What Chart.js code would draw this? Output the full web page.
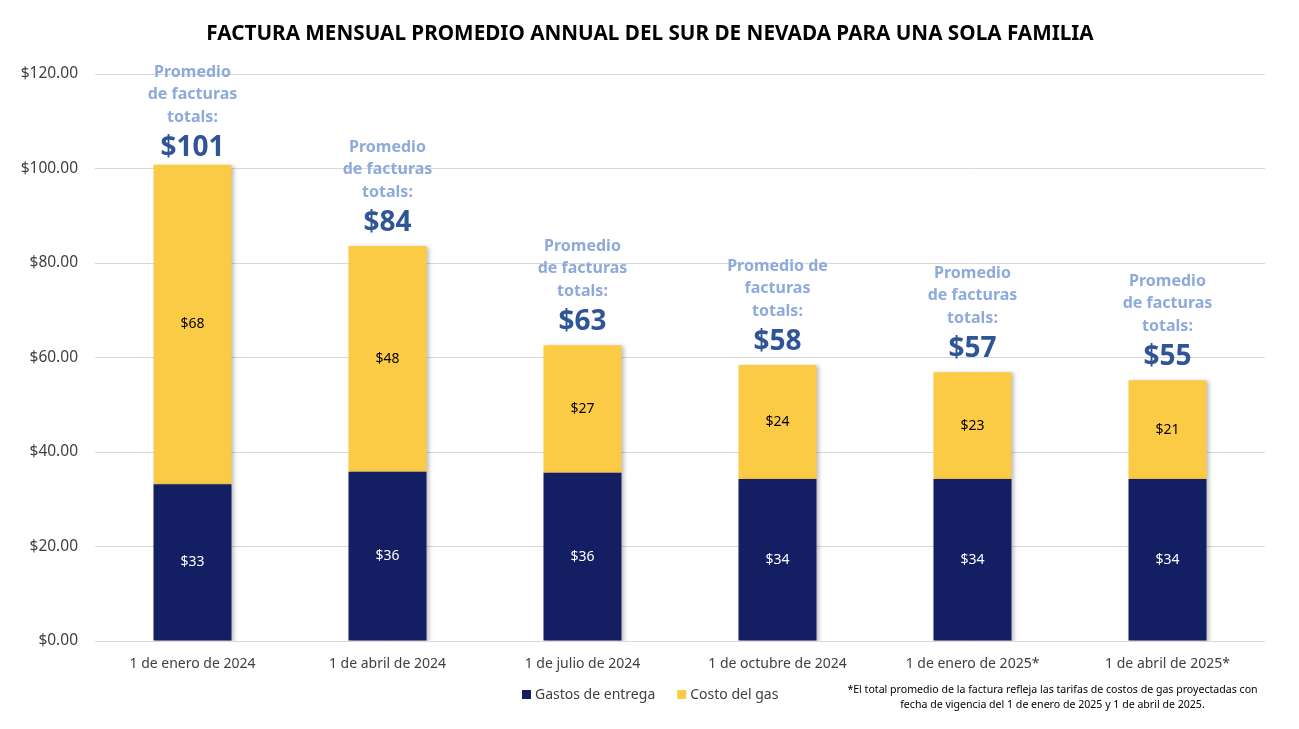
<!DOCTYPE html>
<html>
<head>
<meta charset="utf-8">
<script src="https://cdn.jsdelivr.net/npm/chart.js@4.4.1/dist/chart.umd.min.js"></script>
<style>
  html, body { margin: 0; padding: 0; background: #fff; }
  #wrap { position: relative; width: 1299px; height: 729px; }
  #footnote {
    position: absolute; left: 835px; top: 682px; width: 435px;
    font: 10.6px "Noto Sans", sans-serif;
    color: #000; text-align: center; line-height: 15px;
  }
</style>
</head>
<body>
<div id="wrap">
  <canvas id="billChart" width="1299" height="729"></canvas>
  <div id="footnote">*El total promedio de la factura refleja las tarifas de costos de gas proyectadas con<br>fecha de vigencia del 1 de enero de 2025 y 1 de abril de 2025.</div>
</div>
<script>
// Data
const categories = ["1 de enero de 2024", "1 de abril de 2024", "1 de julio de 2024",
  "1 de octubre de 2024", "1 de enero de 2025*", "1 de abril de 2025*"];
const deliveryCost = [33.2, 35.8, 35.6, 34.3, 34.3, 34.3];
const gasCost = [67.6, 47.8, 27.0, 24.1, 22.6, 20.9];
const totalLabelLines = [
  ["Promedio", "de facturas", "totals:"],
  ["Promedio", "de facturas", "totals:"],
  ["Promedio", "de facturas", "totals:"],
  ["Promedio de", "facturas", "totals:"],
  ["Promedio", "de facturas", "totals:"],
  ["Promedio", "de facturas", "totals:"]
];
const yTicks = [0, 20, 40, 60, 80, 100, 120];

const FONT = '"Noto Sans", sans-serif';
const NAVY = "#141f63";
const YELLOW = "#fccb45";

// draws title, value labels, totals and legend
const extrasPlugin = {
  id: "extras",
  beforeDatasetsDraw(chart) {
    const ctx = chart.ctx;
    ctx.save();
    ctx.shadowColor = "rgba(0,0,0,0.25)";
    ctx.shadowBlur = 4;
    ctx.shadowOffsetX = 2;
    ctx.shadowOffsetY = 1;
  },
  afterDatasetsDraw(chart) {
    const ctx = chart.ctx;
    ctx.restore();
    ctx.save();
    ctx.textAlign = "center";
    ctx.textBaseline = "middle";

    // segment labels
    chart.data.datasets.forEach((ds, di) => {
      const meta = chart.getDatasetMeta(di);
      meta.data.forEach((bar, i) => {
        const mid = (bar.y + bar.base) / 2;
        ctx.fillStyle = di === 0 ? "#ffffff" : "#000000";
        ctx.font = "14px " + FONT;
        ctx.fillText("$" + Math.round(ds.data[i]), bar.x, mid);
      });
    });

    // totals above bars
    const topMeta = chart.getDatasetMeta(1);
    topMeta.data.forEach((bar, i) => {
      const total = Math.round(deliveryCost[i] + gasCost[i]);
      let base = bar.y - 23;
      if (base - 76 < chart.chartArea.top - 2) base = chart.chartArea.top - 2 + 76;
      ctx.fillStyle = "#8eaadb";
      ctx.font = "bold 16px " + FONT;
      totalLabelLines[i].forEach((line, li) => {
        ctx.fillText(line, bar.x, base - 76 + li * 22.5);
      });
      ctx.fillStyle = "#2f5597";
      ctx.font = "bold 28px " + FONT;
      ctx.fillText("$" + total, bar.x, base);
    });

    // title
    ctx.fillStyle = "#000";
    ctx.font = "bold 20.7px " + FONT;
    ctx.fillText("FACTURA MENSUAL PROMEDIO ANNUAL DEL SUR DE NEVADA PARA UNA SOLA FAMILIA", 650, 34);

    // legend
    ctx.textAlign = "left";
    ctx.font = "14px " + FONT;
    let lx = 522;
    chart.data.datasets.forEach((ds) => {
      ctx.fillStyle = ds.backgroundColor;
      ctx.fillRect(lx, 690, 9, 9);
      ctx.fillStyle = "#404040";
      ctx.fillText(ds.label, lx + 13, 695);
      lx += 13 + ctx.measureText(ds.label).width + 22;
    });
    ctx.restore();
  }
};

new Chart(document.getElementById("billChart"), {
  type: "bar",
  data: {
    labels: categories,
    datasets: [
      { label: "Gastos de entrega", data: deliveryCost, backgroundColor: NAVY },
      { label: "Costo del gas", data: gasCost, backgroundColor: YELLOW }
    ]
  },
  options: {
    responsive: false,
    animation: false,
    layout: { padding: { top: 74, right: 34, left: 0, bottom: 0 } },
    plugins: {
      legend: { display: false },
      title: { display: false },
      tooltip: { enabled: false }
    },
    datasets: { bar: { categoryPercentage: 1, barPercentage: 0.4 } },
    scales: {
      x: {
        stacked: true,
        grid: { display: false },
        border: { display: false },
        ticks: { color: "#404040", font: { family: FONT, size: 14 }, padding: 7 },
        afterFit(scale) { scale.height = 88; }
      },
      y: {
        stacked: true,
        min: 0,
        max: 120,
        afterBuildTicks(scale) { scale.ticks = yTicks.map(v => ({ value: v })); },
        grid: { color: "#d9d9d9", drawTicks: false },
        border: { display: false },
        ticks: {
          color: "#404040",
          padding: 17,
          font: { family: FONT, size: 15.5 },
          callback: v => "$" + v.toFixed(2)
        },
        afterFit(scale) { scale.width = 95; }
      }
    }
  },
  plugins: [extrasPlugin]
});
</script>
</body>
</html>
